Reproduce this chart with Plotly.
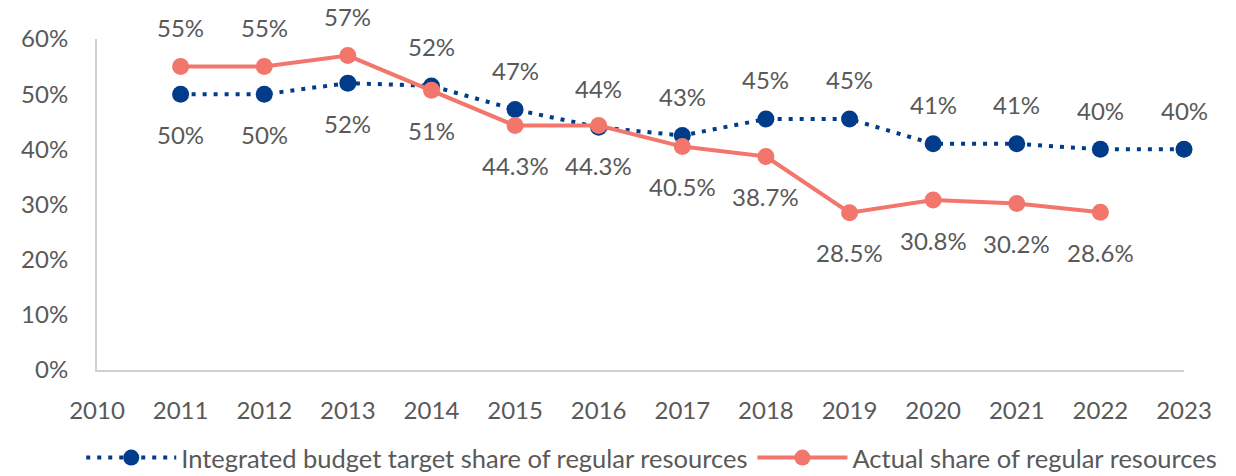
import plotly.graph_objects as go

years = [2011, 2012, 2013, 2014, 2015, 2016, 2017, 2018, 2019, 2020, 2021, 2022, 2023]
target = [0.50, 0.50, 0.52, 0.515, 0.472, 0.44, 0.425, 0.455, 0.455, 0.41, 0.41, 0.40, 0.40]
target_labels = ["50%", "50%", "52%", "52%", "47%", "44%", "43%", "45%", "45%", "41%", "41%", "40%", "40%"]
target_pos = ["below", "below", "below", "above", "above", "above", "above", "above", "above", "above", "above", "above", "above"]

actual_years = [2011, 2012, 2013, 2014, 2015, 2016, 2017, 2018, 2019, 2020, 2021, 2022]
actual = [0.55, 0.55, 0.57, 0.507, 0.443, 0.443, 0.405, 0.387, 0.285, 0.308, 0.302, 0.286]
actual_labels = ["55%", "55%", "57%", "51%", "44.3%", "44.3%", "40.5%", "38.7%", "28.5%", "30.8%", "30.2%", "28.6%"]
actual_pos = ["above", "above", "above", "below", "below", "below", "below", "below", "below", "below", "below", "below"]

x_ticks = list(range(2010, 2024))
y_ticks = [0, 0.1, 0.2, 0.3, 0.4, 0.5, 0.6]

NAVY = "#003C8A"
SALMON = "#F2766B"
GRAY = "#595959"
AXIS = "#D0D0D0"
FONT = "Lato"

fig = go.Figure()
fig.add_trace(go.Scatter(
    x=years, y=target, mode="lines+markers",
    name="Integrated budget target share of regular resources",
    line=dict(color=NAVY, width=4, dash="4px,7px"),
    marker=dict(color=NAVY, size=17),
    cliponaxis=False,
))
fig.add_trace(go.Scatter(
    x=actual_years, y=actual, mode="lines+markers",
    name="Actual share of regular resources",
    line=dict(color=SALMON, width=4),
    marker=dict(color=SALMON, size=17),
    cliponaxis=False,
))

annotations = []
for xs, ys, labs, poss in [(years, target, target_labels, target_pos),
                           (actual_years, actual, actual_labels, actual_pos)]:
    for xv, yv, lab, pos in zip(xs, ys, labs, poss):
        annotations.append(dict(
            x=xv, y=yv, xref="x", yref="y", text=lab, showarrow=False,
            yshift=39 if pos == "above" else -40,
            font=dict(family=FONT, size=24, color=GRAY),
        ))

fig.update_layout(
    width=1236, height=476,
    margin=dict(l=97, r=52, t=39, b=106, autoexpand=False),
    paper_bgcolor="white", plot_bgcolor="white",
    font=dict(family=FONT, color=GRAY),
    showlegend=True,
    legend=dict(orientation="h", xref="paper", yref="paper",
                x=-0.0145, xanchor="left", y=-0.266, yanchor="middle",
                font=dict(family=FONT, size=25.5, color=GRAY),
                itemwidth=90, traceorder="normal"),
    annotations=annotations,
    xaxis=dict(range=[2010, 2023], tickvals=x_ticks, ticktext=[str(v) for v in x_ticks],
               showgrid=False, zeroline=False, showline=True,
               linecolor=AXIS, linewidth=2,
               tickfont=dict(family=FONT, size=24, color=GRAY),
               ticklabelstandoff=18),
    yaxis=dict(range=[0, 0.6], tickvals=y_ticks, tickformat=".0%",
               showgrid=False, zeroline=False, showline=True,
               linecolor=AXIS, linewidth=2,
               tickfont=dict(family=FONT, size=24, color=GRAY),
               ticklabelstandoff=22),
)

fig.write_html("out.html", config={"displayModeBar": False},
               post_script="document.body.style.margin='0';")
